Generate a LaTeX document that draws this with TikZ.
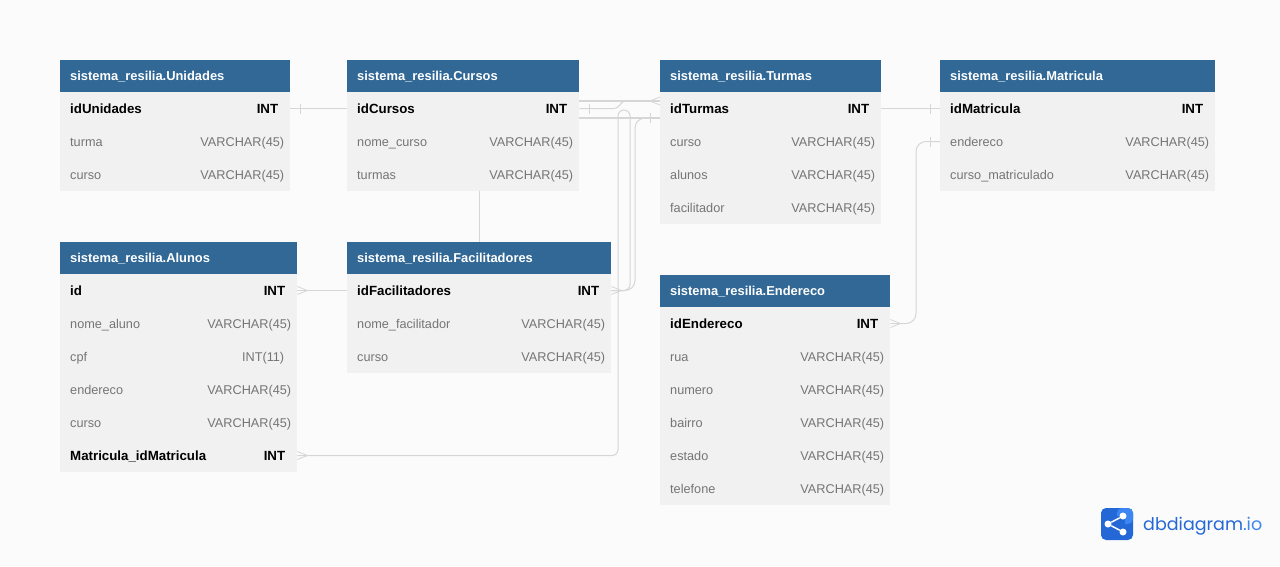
\documentclass[tikz,border=0pt]{standalone}
\usepackage{fontspec}
\setmainfont{Liberation Sans}
\newfontfamily\logofont{Poppins}
\usepackage{xcolor}
\usetikzlibrary{positioning,calc}
\definecolor{headblue}{HTML}{316896}
\definecolor{rowgray}{HTML}{F1F1F1}
\definecolor{pagegray}{HTML}{FBFBFB}
\definecolor{fieldgray}{HTML}{757575}
\definecolor{linegray}{HTML}{D6D6D6}
\definecolor{logoblue}{HTML}{2468D8}
\definecolor{logolight}{HTML}{3D85F0}
\tikzset{
  headbox/.style={anchor=west,fill=headblue,text=white,font=\fontsize{12.9}{14}\selectfont\bfseries,minimum height=33pt,inner ysep=0pt,inner xsep=10pt,text width=#1,text height=10pt,text depth=3pt},
  keybox/.style={anchor=west,fill=rowgray,text=black,font=\fontsize{13.3}{14}\selectfont\bfseries,minimum height=33pt,inner ysep=0pt,inner xsep=10pt,text width=#1,text height=11pt,text depth=2pt},
  rowbox/.style={anchor=west,fill=rowgray,text=fieldgray,font=\fontsize{12.7}{14}\selectfont,minimum height=33pt,inner ysep=0pt,inner xsep=10pt,text width=#1,text height=11pt,text depth=2pt},
  keytype/.style={inner sep=0pt,text=black,font=\fontsize{13.3}{14}\selectfont\bfseries,text height=11pt,text depth=2pt},
  valtype/.style={inner sep=0pt,text=fieldgray,font=\fontsize{12.7}{14}\selectfont,text height=11pt,text depth=2pt},
  rel/.style={draw=linegray,line width=1pt},
  crowfoot/.pic={\draw[linegray,line width=0.8pt] (0,-4) -- (10,0) -- (0,4);},
  onebar/.pic={\draw[linegray,line width=0.8pt] (10,-5) -- (10,5);}
}
\begin{document}
\begin{tikzpicture}[x=1pt,y=-1pt]
  \useasboundingbox[fill=pagegray] (0,0) rectangle (1280,566);
  % Unidades
  \node[headbox=210pt] (unidades) at (60,76.5) {sistema\_resilia.Unidades};
  \node[keybox=210pt] (idUnidades) at (60,108.5) {idUnidades};
  \node[rowbox=210pt] (turmaU) at (60,141.5) {turma};
  \node[rowbox=210pt] (cursoU) at (60,174.5) {curso};
  \node[keytype,left=12pt of idUnidades.east] (idUnidadesT) {INT};
  \node[valtype,left=6pt of turmaU.east] (turmaUT) {VARCHAR(45)};
  \node[valtype,left=6pt of cursoU.east] (cursoUT) {VARCHAR(45)};
  % Cursos
  \node[headbox=212pt] (cursos) at (347,76.5) {sistema\_resilia.Cursos};
  \node[keybox=212pt] (idCursos) at (347,108.5) {idCursos};
  \node[rowbox=212pt] (nomeCurso) at (347,141.5) {nome\_curso};
  \node[rowbox=212pt] (turmasC) at (347,174.5) {turmas};
  \node[keytype,left=12pt of idCursos.east] (idCursosT) {INT};
  \node[valtype,left=6pt of nomeCurso.east] (nomeCursoT) {VARCHAR(45)};
  \node[valtype,left=6pt of turmasC.east] (turmasCT) {VARCHAR(45)};
  % Turmas
  \node[headbox=201pt] (turmas) at (660,76.5) {sistema\_resilia.Turmas};
  \node[keybox=201pt] (idTurmas) at (660,108.5) {idTurmas};
  \node[rowbox=201pt] (cursoT) at (660,141.5) {curso};
  \node[rowbox=201pt] (alunosT) at (660,174.5) {alunos};
  \node[rowbox=201pt] (facilitadorT) at (660,207.5) {facilitador};
  \node[keytype,left=12pt of idTurmas.east] (idTurmasT) {INT};
  \node[valtype,left=6pt of cursoT.east] (cursoTT) {VARCHAR(45)};
  \node[valtype,left=6pt of alunosT.east] (alunosTT) {VARCHAR(45)};
  \node[valtype,left=6pt of facilitadorT.east] (facilitadorTT) {VARCHAR(45)};
  % Matricula
  \node[headbox=255pt] (matricula) at (940,76.5) {sistema\_resilia.Matricula};
  \node[keybox=255pt] (idMatricula) at (940,108.5) {idMatricula};
  \node[rowbox=255pt] (enderecoM) at (940,141.5) {endereco};
  \node[rowbox=255pt] (cursoMat) at (940,174.5) {curso\_matriculado};
  \node[keytype,left=12pt of idMatricula.east] (idMatriculaT) {INT};
  \node[valtype,left=6pt of enderecoM.east] (enderecoMT) {VARCHAR(45)};
  \node[valtype,left=6pt of cursoMat.east] (cursoMatT) {VARCHAR(45)};
  % Alunos
  \node[headbox=217pt] (alunos) at (60,258.5) {sistema\_resilia.Alunos};
  \node[keybox=217pt] (idAluno) at (60,290.5) {id};
  \node[rowbox=217pt] (nomeAluno) at (60,323.5) {nome\_aluno};
  \node[rowbox=217pt] (cpf) at (60,356.5) {cpf};
  \node[rowbox=217pt] (enderecoA) at (60,389.5) {endereco};
  \node[rowbox=217pt] (cursoA) at (60,422.5) {curso};
  \node[keybox=217pt] (matriculaId) at (60,455.5) {Matricula\_idMatricula};
  \node[keytype,left=12pt of idAluno.east] (idAlunoT) {INT};
  \node[valtype,left=6pt of nomeAluno.east] (nomeAlunoT) {VARCHAR(45)};
  \node[valtype,left=13pt of cpf.east] (cpfT) {INT(11)};
  \node[valtype,left=6pt of enderecoA.east] (enderecoAT) {VARCHAR(45)};
  \node[valtype,left=6pt of cursoA.east] (cursoAT) {VARCHAR(45)};
  \node[keytype,left=12pt of matriculaId.east] (matriculaIdT) {INT};
  % Facilitadores
  \node[headbox=244pt] (facilitadores) at (347,258.5) {sistema\_resilia.Facilitadores};
  \node[keybox=244pt] (idFacilitadores) at (347,290.5) {idFacilitadores};
  \node[rowbox=244pt] (nomeFacilitador) at (347,323.5) {nome\_facilitador};
  \node[rowbox=244pt] (cursoF) at (347,356.5) {curso};
  \node[keytype,left=12pt of idFacilitadores.east] (idFacilitadoresT) {INT};
  \node[valtype,left=6pt of nomeFacilitador.east] (nomeFacilitadorT) {VARCHAR(45)};
  \node[valtype,left=6pt of cursoF.east] (cursoFT) {VARCHAR(45)};
  % Endereco
  \node[headbox=210pt] (endereco) at (660,291.5) {sistema\_resilia.Endereco};
  \node[keybox=210pt] (idEndereco) at (660,323.5) {idEndereco};
  \node[rowbox=210pt] (rua) at (660,356.5) {rua};
  \node[rowbox=210pt] (numero) at (660,389.5) {numero};
  \node[rowbox=210pt] (bairro) at (660,422.5) {bairro};
  \node[rowbox=210pt] (estado) at (660,455.5) {estado};
  \node[rowbox=210pt] (telefone) at (660,488.5) {telefone};
  \node[keytype,left=12pt of idEndereco.east] (idEnderecoT) {INT};
  \node[valtype,left=6pt of rua.east] (ruaT) {VARCHAR(45)};
  \node[valtype,left=6pt of numero.east] (numeroT) {VARCHAR(45)};
  \node[valtype,left=6pt of bairro.east] (bairroT) {VARCHAR(45)};
  \node[valtype,left=6pt of estado.east] (estadoT) {VARCHAR(45)};
  \node[valtype,left=6pt of telefone.east] (telefoneT) {VARCHAR(45)};
  % connector ends beside the id rows
  \coordinate (cursosUp) at ($(idCursos.east)+(0,-7.5)$);
  \coordinate (cursosDown) at ($(idCursos.east)+(0,9.5)$);
  \coordinate (turmasUp) at ($(idTurmas.west)+(0,-7.5)$);
  \coordinate (turmasDown) at ($(idTurmas.west)+(0,9.5)$);
  % connectors
  \draw[rel] (idUnidades.east) -- (idCursos.west);
  \pic at (idUnidades.east) {onebar};
  \draw[rel] (idTurmas.east) -- (idMatricula.west);
  \pic[xscale=-1] at (idMatricula.west) {onebar};
  \draw[rel,rounded corners=10pt] (idEndereco.east) -- (916,323.5) -- (916,141.5) -- (enderecoM.west);
  \pic at (idEndereco.east) {crowfoot};
  \pic[xscale=-1] at (enderecoM.west) {onebar};
  \draw[rel] (idAluno.east) -- (idFacilitadores.west);
  \pic at (idAluno.east) {crowfoot};
  \draw[rel] (facilitadores.north) -- (facilitadores.north |- turmasC.south);
  \draw[rel,line width=1.5pt] (cursosUp) -- (turmasUp);
  \pic[xscale=-1] at (turmasUp) {crowfoot};
  \draw[rel,rounded corners=4pt] (idCursos.east) -- (618,108.5) -- (622,101) -- (630,101);
  \pic at (idCursos.east) {onebar};
  \draw[rel,line width=1.5pt] (cursosDown) -- (turmasDown);
  \pic[xscale=-1] at (turmasDown) {onebar};
  \draw[rel,rounded corners=6pt] (matriculaId.east) -- (618,455.5) -- (618,110) -- (630,110) -- (630,290.5) -- (idFacilitadores.east);
  \pic at (matriculaId.east) {crowfoot};
  \draw[rel,rounded corners=10pt] (turmasDown) -- (635,118) -- (635,290.5) -- (idFacilitadores.east);
  \pic at (idFacilitadores.east) {crowfoot};
  % logo
  \node[fill=logoblue,rounded corners=5pt,minimum size=32pt,inner sep=0pt] (logoBox) at (1117,524) {};
  \fill[logolight,rounded corners=5pt] (1117,508) rectangle (1133,524);
  \fill[logoblue] (1117,516) rectangle (1125,524);
  \node[circle,fill=white,minimum size=7pt,inner sep=0pt] (logoA) at (1123,516) {};
  \node[circle,fill=white,minimum size=7pt,inner sep=0pt] (logoB) at (1108,524) {};
  \node[circle,fill=white,minimum size=7pt,inner sep=0pt] (logoC) at (1123,532) {};
  \draw[white,line width=1.5pt] (logoA) -- (logoB) -- (logoC);
  \node[anchor=west,inner sep=0pt,text=logoblue,font=\logofont\fontsize{17.5}{22}\selectfont] (logoText) at (1143,526) {dbdiagram\textcolor{logolight}{.io}};
\end{tikzpicture}
\end{document}
